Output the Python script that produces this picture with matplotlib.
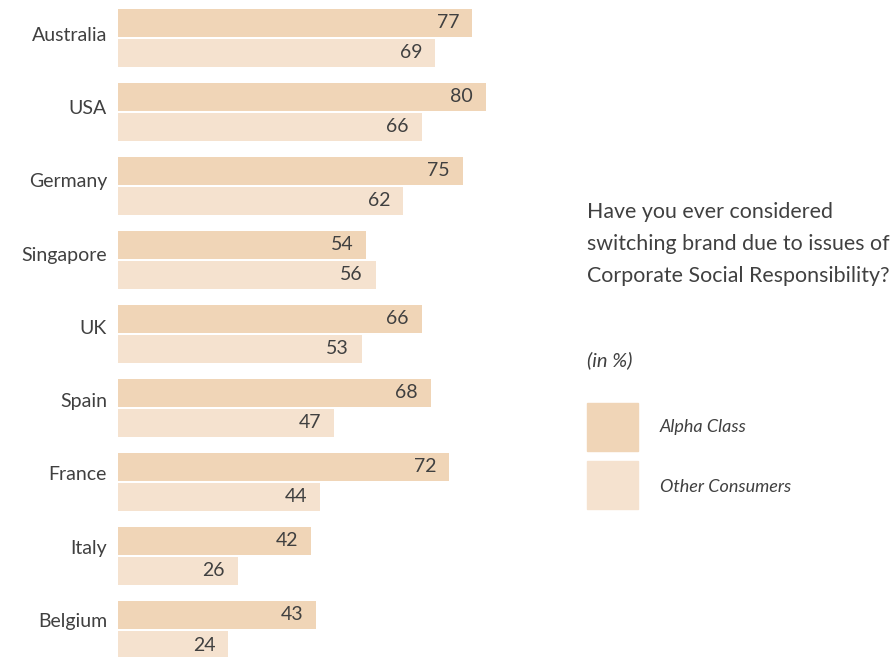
import numpy as np
import matplotlib.pyplot as plt
from matplotlib.patches import Rectangle

countries = ['Australia', 'USA', 'Germany', 'Singapore', 'UK', 'Spain', 'France', 'Italy', 'Belgium']
alpha_class = [77, 80, 75, 54, 66, 68, 72, 42, 43]
other_consumers = [69, 66, 62, 56, 53, 47, 44, 26, 24]

c_alpha = '#f0d5b7'
c_other = '#f5e2cf'
c_text = '#404040'

plt.rcParams['font.family'] = ['Lato', 'DejaVu Sans']

W, H = 893, 657
fig = plt.figure(figsize=(W / 100, H / 100), dpi=100)

# axes: zero at x=118px, 4.6 px per percent point
x0, x1 = 118, 560
ax = fig.add_axes([x0 / W, 0, (x1 - x0) / W, 1])
ax.set_xlim(0, (x1 - x0) / 4.6)
# 74 px per country group, group centre at 38 px from top
ax.set_ylim((H - 38) / 74, -38 / 74)

y = np.arange(len(countries))
off = 15 / 74
h = 28 / 74
ax.barh(y - off, alpha_class, height=h, color=c_alpha)
ax.barh(y + off, other_consumers, height=h, color=c_other)

for yi, v in zip(y, alpha_class):
    ax.text(v - 2.8, yi - off, str(v), ha='right', va='center', fontsize=14, color=c_text)
for yi, v in zip(y, other_consumers):
    ax.text(v - 2.8, yi + off, str(v), ha='right', va='center', fontsize=14, color=c_text)

# country labels drift slightly upward relative to the groups
ax.set_yticks(y - (4 + 0.75 * y) / 74)
ax.set_yticklabels(countries, fontsize=14, color=c_text)
ax.tick_params(axis='y', length=0, pad=8)
ax.set_xticks([])
for s in ax.spines.values():
    s.set_visible(False)

def fy(p):
    return 1 - p / H

q_lines = ['Have you ever considered', 'switching brand due to issues of',
           'Corporate Social Responsibility?']
for i, line in enumerate(q_lines):
    fig.text(587 / W, fy(212 + 32 * i), line, fontsize=15.4, color=c_text, va='center', ha='left')

fig.text(587 / W, fy(360), '(in %)', fontsize=14.5, style='italic', color=c_text, va='center')

fig.add_artist(Rectangle((587 / W, fy(451)), 51 / W, 48 / H, color=c_alpha, transform=fig.transFigure))
fig.add_artist(Rectangle((587 / W, fy(509)), 51 / W, 48 / H, color=c_other, transform=fig.transFigure))
fig.text(660 / W, fy(427), 'Alpha Class', fontsize=13, style='italic', color=c_text, va='center')
fig.text(660 / W, fy(487), 'Other Consumers', fontsize=13, style='italic', color=c_text, va='center')

fig.savefig('out.png', dpi=100)
